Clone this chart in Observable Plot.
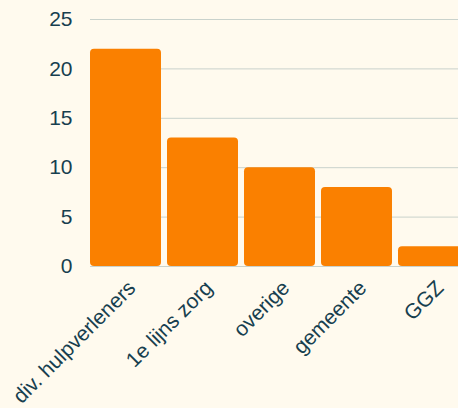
<!DOCTYPE html>
<html>
<head>
<meta charset="utf-8">
<script src="https://cdn.jsdelivr.net/npm/d3@7"></script>
<script src="https://cdn.jsdelivr.net/npm/@observablehq/plot@0.6"></script>
<style>
  html, body { margin: 0; padding: 0; background: #fffaee; overflow: hidden; }
  #chart svg { overflow: hidden; }
</style>
</head>
<body>
<div id="chart"></div>
<script>
const categories = ["div. hulpverleners", "1e lijns zorg", "overige", "gemeente", "GGZ"];
const values = [22, 13, 10, 8, 2];
const yTicks = [0, 5, 10, 15, 20, 25];

const data = categories.map((c, i) => ({category: c, value: values[i]}));
const textColor = "#173f4f";

const chart = Plot.plot({
  width: 458,
  height: 408,
  marginTop: 19,
  marginBottom: 142,
  marginLeft: 90,
  marginRight: 0,
  style: {background: "#fffaee", fontFamily: "'Liberation Sans', Arial, sans-serif", fontSize: "21px", color: textColor},
  x: {domain: categories, range: [84, 475], paddingInner: 0.078, paddingOuter: 0.078, round: false, label: null},
  y: {domain: [0, 25], label: null},
  marks: [
    Plot.gridY(yTicks, {stroke: "#c9d2cc", strokeOpacity: 1, strokeWidth: 1}),
    Plot.barY(data, {x: "category", y: "value", fill: "#fa8000", rx: 4}),
    Plot.axisY(yTicks, {tickSize: 0, tickPadding: 18, fill: textColor, fontSize: 21}),
    Plot.axisX({tickSize: 0, tickPadding: 0, tickRotate: -45, textAnchor: "end", fill: textColor, fontSize: 21, dx: 6, dy: 18})
  ]
});
document.getElementById("chart").appendChild(chart);
</script>
</body>
</html>
